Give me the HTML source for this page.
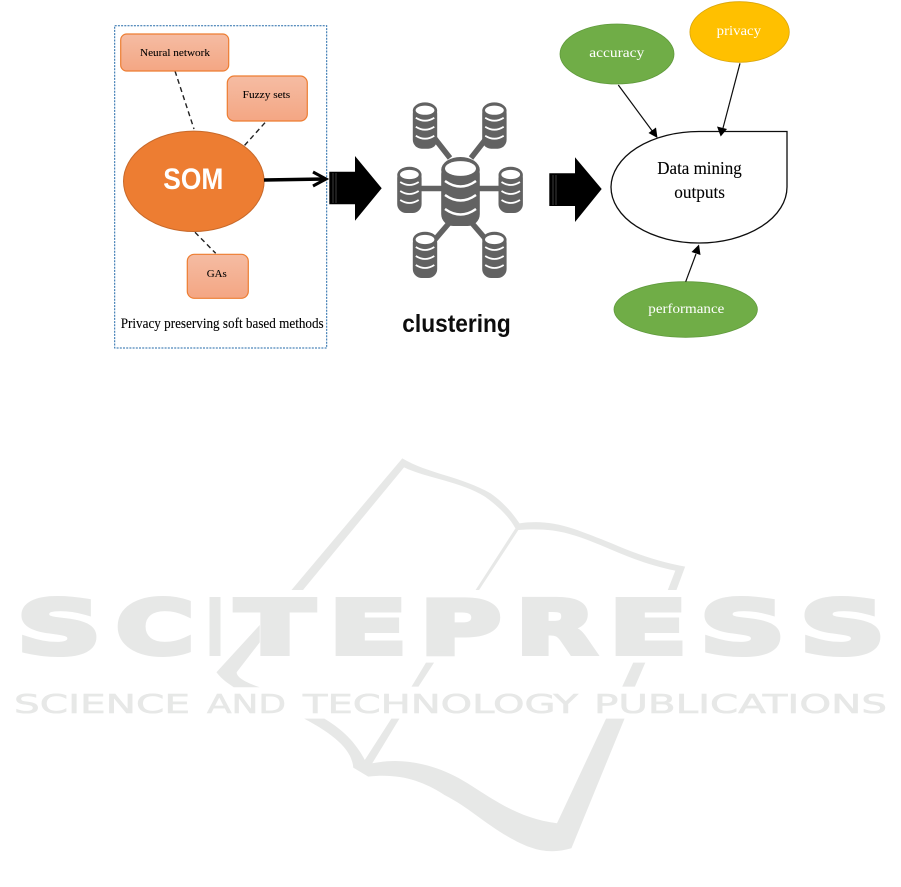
<!DOCTYPE html>
<html><head><meta charset="utf-8"><style>
html,body{margin:0;padding:0;background:#fff;width:901px;height:887px;overflow:hidden}
svg{display:block}
.s{font-family:"Liberation Serif",serif}
.w{font-family:"DejaVu Sans",sans-serif;font-weight:bold;fill:#e7e8e7;stroke:#e7e8e7;stroke-linejoin:miter}
.v{font-family:"DejaVu Sans",sans-serif;fill:#e7e8e7;stroke:#e7e8e7;stroke-linejoin:miter}
</style></head><body>
<svg width="901" height="887" viewBox="0 0 901 887" xmlns="http://www.w3.org/2000/svg">
<defs>
<linearGradient id="g" x1="0" y1="0" x2="0" y2="1"><stop offset="0" stop-color="#f5bca3"/><stop offset="1" stop-color="#f4a683"/></linearGradient>
<filter id="b" x="-5%" y="-5%" width="110%" height="110%"><feGaussianBlur stdDeviation="0.35"/></filter>
<filter id="t" x="-5%" y="-5%" width="110%" height="110%"><feGaussianBlur stdDeviation="0.25"/></filter>
<g id="cy">
<rect x="-0.5" y="2" width="24.4" height="44" rx="9" fill="#626262"/>
<ellipse cx="11.7" cy="8" rx="12.2" ry="8.3" fill="#626262"/>
<ellipse cx="11.7" cy="7.5" rx="9.4" ry="4.6" fill="#fff"/>
<path d="M2.5 15 Q11.7 21 21 15 M2.5 24 Q11.7 30 21 24 M2.5 33 Q11.7 39 21 33" fill="none" stroke="#fff" stroke-width="1.8"/>
</g>
</defs>

<!-- watermark -->
<g filter="url(#b)">
<g transform="translate(0,440) scale(0.5772,0.3333)" fill="#e7e8e7">
<path d="M697,55 C740,100 800,110 850,160 C875,190 890,225 900,250 C960,235 1000,270 1060,310 C1100,340 1140,365 1187,380 L1172,450 L1157,450 L1170,392 C1120,375 1080,345 1040,315 C990,280 960,262 898,270 L830,450 L824,450 L893,265 C880,225 860,195 840,170 C800,125 740,115 700,82 L525,450 L505,450 Z"/>
<path d="M450,555 L375,697 C385,720 395,730 405,742 L450,742 C430,730 410,715 410,697 L450,607 Z"/>
<path d="M765,605 L775,605 L763,635 Z M738,668 L752,668 L725,740 L713,740 Z M1097,668 L1118,668 L1100,740 L1078,740 Z"/>
<path d="M527,836 L562,836 C600,875 620,920 632,960 L678,836 L692,836 L645,970 C700,950 760,975 810,1030 C860,1085 900,1135 965,1150 L1050,836 L1082,836 L990,1225 C950,1245 920,1230 880,1190 C840,1150 810,1100 770,1065 C730,1020 690,1000 638,1010 L612,983 C610,930 580,885 527,836 Z"/>
</g>
<g class="w" font-size="74" stroke-width="5">
<text x="17" y="653.5" textLength="84" lengthAdjust="spacingAndGlyphs">S</text>
<text x="116" y="653.5" textLength="78" lengthAdjust="spacingAndGlyphs">C</text>
<text x="207" y="653.5" textLength="16" lengthAdjust="spacingAndGlyphs">I</text>
<text x="236" y="653.5" textLength="78" lengthAdjust="spacingAndGlyphs">T</text>
<text x="329" y="653.5" textLength="78" lengthAdjust="spacingAndGlyphs">E</text>
<text x="420" y="653.5" textLength="81" lengthAdjust="spacingAndGlyphs">P</text>
<text x="516" y="653.5" textLength="80" lengthAdjust="spacingAndGlyphs">R</text>
<text x="609" y="653.5" textLength="78" lengthAdjust="spacingAndGlyphs">E</text>
<text x="700" y="653.5" textLength="85" lengthAdjust="spacingAndGlyphs">S</text>
<text x="800" y="653.5" textLength="85" lengthAdjust="spacingAndGlyphs">S</text>
</g>
<g class="v" font-size="26" stroke-width="0.6">
<text x="14" y="713" textLength="176" lengthAdjust="spacingAndGlyphs">SCIENCE</text>
<text x="207" y="713" textLength="79" lengthAdjust="spacingAndGlyphs">AND</text>
<text x="303" y="713" textLength="275" lengthAdjust="spacingAndGlyphs">TECHNOLOGY</text>
<text x="594" y="713" textLength="293" lengthAdjust="spacingAndGlyphs">PUBLICATIONS</text>
</g>
</g>

<g filter="url(#b)">
<!-- left box -->
<rect x="114.7" y="25.7" width="212" height="322.3" fill="#fff" stroke="#2068a8" stroke-width="1" stroke-dasharray="2 1.2"/>
<g stroke="#222" stroke-width="1.4" stroke-dasharray="5 3.5" fill="none">
<path d="M175,71 L194,129"/>
<path d="M265,122.7 L244,146"/>
<path d="M195,232.3 L215.7,253.3"/>
</g>
<g fill="url(#g)" stroke="#ed7d31" stroke-width="1.2">
<rect x="120.7" y="34" width="108" height="37" rx="6"/>
<rect x="227.3" y="76" width="80" height="45" rx="7"/>
<rect x="187.3" y="254.3" width="61" height="44" rx="7"/>
</g>
<ellipse cx="193.8" cy="181.3" rx="70.3" ry="50.2" fill="#ed7d31" stroke="#c8692a" stroke-width="1"/>
<path d="M264,180 L325,179" stroke="#000" stroke-width="3.4" fill="none"/>
<path d="M313,172 L326,179 L313,186" stroke="#000" stroke-width="3" fill="none"/>
<path d="M329.3,171.7 H355 V156 L381.7,188.3 L355,220.7 V204.3 H329.3 Z" fill="#000"/>
<path d="M333,173 V203 M336,173 V203" stroke="#777" stroke-width="0.5"/>
<path d="M549.3,173.3 H575 V157.3 L601.7,189 L575,222 V206 H549.3 Z" fill="#000"/>
<path d="M553,175 V205 M556,175 V205" stroke="#777" stroke-width="0.5"/>

<!-- clustering -->
<g stroke="#626262" stroke-width="5.5" fill="none">
<path d="M410,188.5 H510"/>
<path d="M432,135 L450,158 M489,135 L471,158 M432,243 L450,222 M489,243 L471,222"/>
</g>
<use href="#cy" x="413.3" y="102.7"/>
<use href="#cy" x="482.7" y="102.7"/>
<use href="#cy" x="397.7" y="167"/>
<use href="#cy" x="499" y="167"/>
<use href="#cy" x="413.3" y="232"/>
<use href="#cy" x="482.7" y="232"/>
<rect x="441.2" y="162" width="38.6" height="64" rx="12" fill="#626262"/>
<ellipse cx="460.5" cy="170" rx="19.3" ry="13" fill="#626262"/>
<ellipse cx="460.5" cy="168.5" rx="15.5" ry="7.4" fill="#fff"/>
<path d="M445 181 Q460.5 192 476 181 M445 195 Q460.5 206 476 195 M445 209 Q460.5 220 476 209" fill="none" stroke="#fff" stroke-width="2.4"/>

<!-- right -->
<path d="M699,131.5 H787 V187 A88,56 0 0 1 611,187 A88,56 0 0 1 699,131.5 Z" fill="#fff" stroke="#111" stroke-width="1.3"/>
<ellipse cx="617" cy="54" rx="57" ry="30" fill="#70ad47" stroke="#5f9a3b" stroke-width="0.8"/>
<ellipse cx="739.6" cy="32" rx="49.7" ry="30.3" fill="#ffc000" stroke="#d9a50a" stroke-width="0.8"/>
<ellipse cx="685.7" cy="309.5" rx="71.7" ry="27.8" fill="#70ad47" stroke="#5f9a3b" stroke-width="0.8"/>
<g stroke="#111" stroke-width="1.2">
<path d="M618.3,85 L653,132"/>
<path d="M740,63.3 L723,128"/>
<path d="M685.7,281.7 L696,254"/>
</g>
<path d="M657.5,138 L648.5,133 L656,127.5 Z" fill="#000"/>
<path d="M720.7,136.5 L717,126.5 L727,129 Z" fill="#000"/>
<path d="M699,244.5 L700.5,255 L691.5,252 Z" fill="#000"/>
</g>

<g filter="url(#t)">
<text class="s" x="140" y="56" font-size="11" fill="#000" stroke="#000" stroke-width="0.08" textLength="70" lengthAdjust="spacingAndGlyphs">Neural  network</text>
<text class="s" x="242.7" y="98" font-size="11" fill="#000" stroke="#000" stroke-width="0.08" textLength="47.5" lengthAdjust="spacingAndGlyphs">Fuzzy  sets</text>
<text class="s" x="206.7" y="277" font-size="11" fill="#000" stroke="#000" stroke-width="0.08" textLength="20" lengthAdjust="spacingAndGlyphs">GAs</text>
<text x="163.3" y="189" font-family="Liberation Sans,sans-serif" font-weight="bold" font-size="30" fill="#fff" textLength="60" lengthAdjust="spacingAndGlyphs">SOM</text>
<text class="s" x="120.7" y="328" font-size="14.5" fill="#000" stroke="#000" stroke-width="0.1" textLength="203" lengthAdjust="spacingAndGlyphs">Privacy preserving soft based methods</text>
<text x="402.3" y="332" font-family="Liberation Sans,sans-serif" font-weight="bold" font-size="25" fill="#111" textLength="108.5" lengthAdjust="spacingAndGlyphs">clustering</text>
<text class="s" x="657.3" y="174" font-size="18" fill="#000" stroke="#000" stroke-width="0.1" textLength="84.4" lengthAdjust="spacingAndGlyphs">Data mining</text>
<text class="s" x="674.3" y="198" font-size="18" fill="#000" stroke="#000" stroke-width="0.1" textLength="50.7" lengthAdjust="spacingAndGlyphs">outputs</text>
<text class="s" x="589.3" y="57" font-size="14" fill="#fff" textLength="55" lengthAdjust="spacingAndGlyphs">accuracy</text>
<text class="s" x="716.7" y="35" font-size="14" fill="#fff" textLength="44.3" lengthAdjust="spacingAndGlyphs">privacy</text>
<text class="s" x="648.3" y="313" font-size="14" fill="#fff" textLength="76" lengthAdjust="spacingAndGlyphs">performance</text>
</g>
</svg>
</body></html>
